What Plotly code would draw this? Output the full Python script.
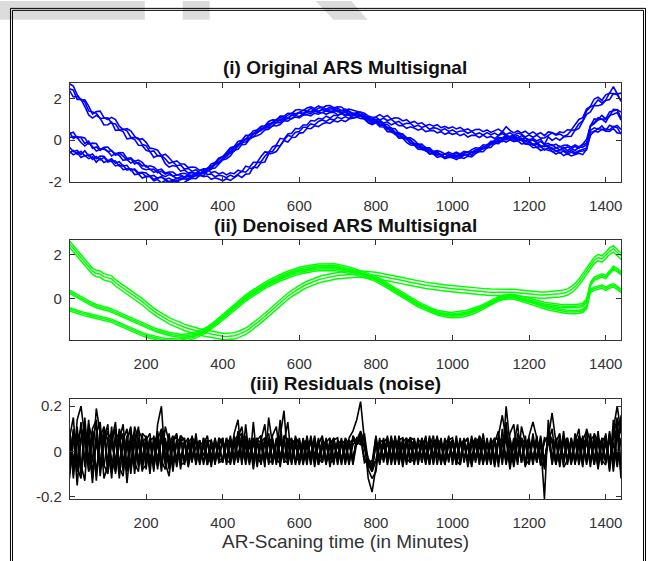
import numpy as np
import plotly.graph_objects as go

# Scan time axis (minutes), one sample every 10 minutes over a day
MINUTES = np.arange(0, 1441, 10)

# Smooth (denoised) profiles of the three signal families
CENTER_A = [
    2.50, 2.30, 2.10, 1.90, 1.70, 1.45, 1.25, 1.15, 1.12, 1.00,
    0.95, 0.90, 0.72, 0.60, 0.48, 0.35, 0.22, 0.10, -0.02, -0.15,
    -0.30, -0.45, -0.58, -0.70, -0.82, -0.92, -1.02, -1.10, -1.18, -1.25,
    -1.32, -1.38, -1.44, -1.49, -1.53, -1.57, -1.61, -1.65, -1.69, -1.72,
    -1.74, -1.75, -1.74, -1.71, -1.66, -1.59, -1.50, -1.39, -1.26, -1.12,
    -0.97, -0.82, -0.66, -0.50, -0.34, -0.19, -0.04, 0.10, 0.23, 0.35,
    0.46, 0.56, 0.65, 0.73, 0.80, 0.86, 0.91, 0.95, 0.99, 1.02,
    1.05, 1.07, 1.09, 1.10, 1.11, 1.12, 1.12, 1.11, 1.10, 1.08,
    1.06, 1.03, 1.00, 0.97, 0.93, 0.90, 0.86, 0.82, 0.78, 0.74,
    0.70, 0.67, 0.64, 0.61, 0.58, 0.55, 0.53, 0.51, 0.49, 0.47,
    0.45, 0.43, 0.41, 0.39, 0.37, 0.35, 0.33, 0.32, 0.31, 0.30,
    0.29, 0.29, 0.30, 0.31, 0.31, 0.30, 0.28, 0.26, 0.24, 0.22,
    0.20, 0.18, 0.17, 0.16, 0.16, 0.17, 0.18, 0.20, 0.22, 0.25,
    0.30, 0.40, 0.55, 0.75, 1.00, 1.30, 1.55, 1.75, 1.88, 1.82,
    1.98, 2.18, 2.28, 2.12, 1.95,
]
CENTER_B = [
    0.30, 0.20, 0.12, 0.02, -0.08, -0.18, -0.28, -0.36, -0.42, -0.46,
    -0.50, -0.56, -0.64, -0.72, -0.80, -0.88, -0.96, -1.04, -1.12, -1.20,
    -1.28, -1.35, -1.42, -1.48, -1.54, -1.59, -1.63, -1.67, -1.70, -1.72,
    -1.72, -1.70, -1.67, -1.62, -1.56, -1.48, -1.38, -1.26, -1.12, -0.97,
    -0.82, -0.66, -0.50, -0.34, -0.19, -0.05, 0.08, 0.21, 0.33, 0.45,
    0.56, 0.66, 0.76, 0.85, 0.94, 1.02, 1.10, 1.17, 1.24, 1.30,
    1.35, 1.39, 1.43, 1.46, 1.48, 1.50, 1.51, 1.52, 1.52, 1.51,
    1.49, 1.46, 1.42, 1.37, 1.31, 1.25, 1.19, 1.13, 1.07, 1.01,
    0.93, 0.84, 0.74, 0.63, 0.52, 0.41, 0.30, 0.19, 0.08, -0.03,
    -0.13, -0.23, -0.32, -0.41, -0.49, -0.56, -0.62, -0.66, -0.69, -0.71,
    -0.71, -0.70, -0.68, -0.65, -0.61, -0.56, -0.50, -0.43, -0.35, -0.26,
    -0.17, -0.08, 0.00, 0.06, 0.10, 0.11, 0.10, 0.07, 0.03, -0.02,
    -0.07, -0.12, -0.17, -0.21, -0.25, -0.28, -0.31, -0.33, -0.35, -0.36,
    -0.37, -0.37, -0.36, -0.34, -0.30, -0.10, 0.65, 0.90, 0.98, 1.05,
    0.98, 1.20, 1.40, 1.30, 1.15,
]
CENTER_C = [
    -0.50, -0.56, -0.62, -0.66, -0.72, -0.76, -0.80, -0.84, -0.88, -0.92,
    -0.96, -1.02, -1.10, -1.18, -1.26, -1.34, -1.42, -1.50, -1.57, -1.64,
    -1.70, -1.75, -1.80, -1.84, -1.87, -1.90, -1.92, -1.93, -1.93, -1.92,
    -1.89, -1.85, -1.80, -1.73, -1.65, -1.56, -1.45, -1.33, -1.20, -1.06,
    -0.92, -0.77, -0.62, -0.47, -0.32, -0.18, -0.05, 0.08, 0.20, 0.32,
    0.43, 0.53, 0.63, 0.72, 0.80, 0.88, 0.95, 1.02, 1.08, 1.14,
    1.19, 1.23, 1.27, 1.30, 1.33, 1.35, 1.36, 1.37, 1.37, 1.36,
    1.34, 1.31, 1.28, 1.24, 1.19, 1.14, 1.09, 1.04, 0.99, 0.93,
    0.85, 0.76, 0.66, 0.55, 0.44, 0.33, 0.22, 0.11, 0.00, -0.10,
    -0.20, -0.30, -0.39, -0.47, -0.55, -0.62, -0.68, -0.73, -0.77, -0.80,
    -0.81, -0.81, -0.79, -0.76, -0.72, -0.66, -0.59, -0.51, -0.42, -0.32,
    -0.22, -0.12, -0.04, 0.02, 0.05, 0.06, 0.04, 0.00, -0.05, -0.11,
    -0.17, -0.23, -0.29, -0.35, -0.40, -0.45, -0.49, -0.53, -0.56, -0.59,
    -0.61, -0.62, -0.62, -0.60, -0.57, -0.40, 0.35, 0.45, 0.50, 0.55,
    0.45, 0.55, 0.60, 0.50, 0.35,
]

# Level of each sensor signal relative to its family profile
OFFSETS_A = [-0.15, 0.00, 0.14]
OFFSETS_B = [-0.07, 0.00, 0.08]
OFFSETS_C = [-0.08, 0.00, 0.07]

# Residual noise of each signal, in units of 0.01
RESID_1 = [
    2, -8, 14, 20, 6, -9, -4, 19, 8, -12,
    -6, 11, -10, 4, 8, -14, 3, 9, -7, 5,
    -3, 6, -9, 12, 20, -5, -11, 4, 7, -8,
    5, -4, 7, -6, 3, -2, 5, -7, 4, 2,
    -5, 6, -3, 8, 14, -4, 3, -6, 13, -5,
    4, -7, 15, 3, -5, 6, 18, -4, 5, -6,
    3, -5, 7, -3, 4, -6, 2, 5, -4, 6,
    -3, 4, -5, 6, 9, 14, 22, 5, -12, -18,
    -6, 4, -3, 6, -5, 7, -2, 4, -6, 5,
    3, -4, 6, -5, 2, 7, -3, 5, -6, 4,
    -2, 5, -4, 6, -7, 3, 5, -4, 8, -3,
    4, -6, 7, 16, 5, -8, 3, 12, -5, 4,
    -3, 6, -5, 4, -21, 14, -4, 6, -7, 5,
    3, -6, 8, -4, 5, 9, -5, 6, -8, 4,
    7, -9, 10, 20, 8,
]
RESID_2 = [
    -4, 9, -15, 6, 12, -5, 10, 14, -8, 5,
    12, -9, 6, -12, 5, 10, -8, 3, 11, -6,
    4, -10, 7, -5, 9, 3, -8, 6, -4, 7,
    -6, 3, -5, 8, -4, 6, -3, 4, -6, 5,
    3, -4, 7, -5, 6, 11, -3, 5, -8, 4,
    -6, 5, 8, -4, 6, -7, 4, 13, -5, 3,
    -4, 6, -3, 5, -7, 4, 6, -5, 3, -6,
    5, -4, 3, -6, 7, 4, 8, -3, -6, -9,
    4, -6, 5, -3, 7, -5, 4, -7, 3, 6,
    -5, 4, -3, 7, -6, 5, 3, -4, 6, -5,
    4, -6, 3, 5, -4, 7, -5, 3, -6, 6,
    -3, 5, -7, 10, -4, 6, -5, 8, 4, -6,
    5, -4, 7, -6, -5, 6, 17, 4, 8, -7,
    -4, 6, -5, 3, -7, 10, 4, -6, 5, -4,
    -6, 8, -7, 12, -10,
]
RESID_3 = [
    6, 15, -7, -12, 9, 4, -14, 8, 13, -6,
    -10, 5, 13, -7, -11, 6, 9, -5, -9, 8,
    6, -7, 3, 8, -6, 11, 4, -9, 5, -3,
    4, -7, 2, 5, -6, 3, 7, -4, 5, -3,
    6, -5, 4, -3, 9, -6, 12, -4, 6, -7,
    5, 12, -6, 4, -3, 14, -5, 6, -4, 7,
    -5, 3, -6, 7, -2, 5, -4, 6, -7, 3,
    -2, 6, -4, 5, -3, 5, 9, 4, -8, -12,
    -9, 5, -4, 7, -6, 3, 5, -4, 6, -5,
    6, -3, 5, -6, 4, -2, 7, -5, 3, -4,
    5, -3, 6, -5, 3, -7, 4, 6, -4, 5,
    -6, 4, 9, -5, 20, 3, -7, 5, -4, 7,
    -5, 8, -4, 6, -8, 9, 5, -6, 4, -3,
    6, -5, 4, 10, -6, 5, -7, 8, 4, -6,
    5, -8, 14, -5, 16,
]
RESID_4 = [
    -10, 4, 8, -6, -13, 12, 5, -9, 6, 11,
    4, -12, 8, 6, -9, 3, -6, 11, 5, -8,
    -6, 4, -5, 9, -4, -8, 6, 3, -7, 4,
    3, 6, -4, 2, 5, -5, 4, -3, 6, -4,
    -3, 5, -6, 4, -2, 7, 5, -5, 4, 6,
    -4, 6, -5, 7, 11, -3, 5, -6, 3, -5,
    6, -4, 5, -3, 7, -5, 3, -6, 4, 5,
    -6, 3, 5, -4, 6, 3, 7, 2, -6, -8,
    5, -3, 6, -5, 4, -6, 7, -3, 5, -4,
    -4, 6, -5, 3, -6, 4, -3, 6, -5, 7,
    -6, 4, -3, 5, -5, 6, -4, 7, 3, -5,
    6, -3, 5, -6, 13, -4, 6, -3, 5, -7,
    4, -6, 5, -3, 4, 7, -5, 6, -4, 9,
    -5, 4, -6, 7, 4, -5, 8, -4, 6, 3,
    -5, 6, -9, 9, -12,
]
RESID_5 = [
    8, -12, 5, 10, -7, 14, -10, 4, -6, 9,
    -5, 7, -8, 10, 4, -6, 8, -10, 6, -3,
    7, -5, 4, -8, 6, -3, 8, -5, 4, 6,
    -4, 5, -3, 6, -5, 4, -6, 3, -4, 6,
    4, -6, 5, 3, -5, 4, -4, 6, -3, 5,
    7, -3, 5, -6, 4, 7, -5, 3, 6, -4,
    -3, 5, -4, 6, -5, 3, 7, -4, 5, -3,
    4, -5, 6, 3, -4, 6, 4, 8, -5, -7,
    6, -5, 3, -4, 6, -3, 5, 6, -5, 3,
    -6, 5, 4, -3, 7, -5, 4, -6, 3, 6,
    -4, 7, -5, 4, 6, -3, 5, -6, 4, -3,
    5, -7, 4, 6, -5, 8, 12, -4, 6, -5,
    7, 13, 6, -5, -6, 4, 10, -5, 6, -4,
    5, -3, 6, -5, 7, -4, 5, -6, 9, -5,
    4, -6, 7, 15, -8,
]
RESID_6 = [
    -6, 10, -9, 5, 11, -8, 6, 12, -11, 4,
    9, -4, -9, 5, 12, -7, 4, -5, 9, 6,
    -8, 5, 6, -4, 8, -6, 3, 7, -5, 4,
    6, -3, 5, -5, 4, 3, -6, 5, -3, 4,
    -5, 3, 6, -4, 5, -3, 7, -5, 4, -4,
    3, -5, 6, 4, -6, 5, -3, 4, -5, 6,
    4, -6, 3, 5, -4, 6, -5, 4, 6, -4,
    3, 5, -6, 4, 5, 3, 6, -5, -4, -9,
    -4, 6, -5, 4, -3, 6, -5, 3, -4, 6,
    5, -4, 6, -3, 5, -6, 4, 3, -5, 6,
    -3, 5, -6, 4, -5, 3, 6, -4, 5, -6,
    4, -5, 6, -4, 7, -3, 5, -6, 11, 4,
    -6, 5, -4, 7, -4, 5, -3, 6, -5, 4,
    6, -4, 5, -6, 3, 6, -5, 4, -7, 6,
    -4, 7, -6, 8, 11,
]
RESID_7 = [
    5, -6, 11, -9, 7, -4, 9, -13, 10, -7,
    6, 8, -5, 9, -7, 5, 11, -6, 4, -9,
    5, 8, -6, 4, -9, 6, -4, 5, 8, -6,
    -5, 4, 6, -3, 5, -6, 4, 5, -5, 3,
    6, -4, -5, 7, -3, 5, -6, 4, 5, -3,
    -5, 4, -3, 6, -4, -5, 6, -3, 4, 5,
    -4, 5, 3, -6, 4, -3, 5, -5, 3, 6,
    -5, 4, -3, 5, -6, 4, 3, 6, -7, -5,
    7, -4, 5, -6, 3, 5, -4, 6, -3, -5,
    4, -5, 3, 6, -4, 5, -6, 4, -3, 5,
    6, -4, 5, -3, 4, -6, 3, 5, -5, 4,
    -5, 6, -4, 5, -6, 4, -3, 6, -5, 3,
    6, -5, 4, -6, 6, 5, 4, -5, 7, -6,
    4, -5, 3, 6, -4, 5, -5, 7, -3, 5,
    6, -5, 4, -7, 6,
]
RESID_8 = [
    -12, 7, -5, 13, -4, 8, -12, 6, -7, 10,
    -8, 4, 10, -6, 6, -9, 5, 8, -4, 7,
    -5, 6, -8, 5, 10, 4, -6, 3, -5, 7,
    5, -6, 3, 5, -4, 6, -3, -5, 4, -4,
    5, -3, 4, -6, 6, 8, -4, 3, -5, 5,
    4, 6, -4, -5, 5, -4, 7, 5, -6, 4,
    -6, 3, 5, -4, 6, -3, -5, 4, -3, 5,
    6, -4, 5, -5, 3, 5, 4, 3, -3, -7,
    3, -5, 4, 6, -4, 5, -6, 4, 6, -3,
    5, -6, 4, -5, 6, -3, 5, 4, -6, 3,
    5, -4, -6, 4, 5, -5, 6, -3, 4, -4,
    3, 6, -5, 4, -3, 6, -5, 4, 5, -6,
    -4, 6, -5, 5, -7, 8, -6, 4, -5, 7,
    -6, 5, -4, 6, 5, -6, 4, -5, 6, -4,
    8, -5, 6, 10, -6,
]
RESID_9 = [
    9, -5, 6, -10, 15, -6, 7, -11, 5, 8,
    -9, 6, -6, 8, -5, 7, -10, 6, -6, 4,
    6, -4, 5, -6, 7, -5, 4, -6, 5, -4,
    4, -5, 6, 4, -5, 3, 5, -4, 6, -5,
    -4, 6, -3, 5, 7, -5, 4, -3, 6, -4,
    6, -5, 4, 5, -3, 6, -4, -5, 5, 3,
    5, -4, 6, -3, 5, -6, 4, 3, -5, -4,
    4, -6, 3, 5, -5, 6, 5, 2, -5, -4,
    -5, 4, 5, -3, 6, -4, 3, -5, 4, 6,
    -3, 5, -5, 6, -4, 3, 6, -5, 4, -3,
    5, -6, 4, 3, -4, 5, -3, 6, -5, 4,
    -4, 5, 6, -3, 9, -6, 4, -5, 6, 3,
    5, -4, 6, -3, 5, 6, 5, -6, 3, 5,
    -4, 6, -5, 3, 6, -4, 5, 7, -5, 6,
    -5, 9, -4, 14, 9,
]

SIGNALS = [
    (CENTER_A, OFFSETS_A[0], RESID_1),
    (CENTER_A, OFFSETS_A[1], RESID_2),
    (CENTER_A, OFFSETS_A[2], RESID_3),
    (CENTER_B, OFFSETS_B[0], RESID_4),
    (CENTER_B, OFFSETS_B[1], RESID_5),
    (CENTER_B, OFFSETS_B[2], RESID_6),
    (CENTER_C, OFFSETS_C[0], RESID_7),
    (CENTER_C, OFFSETS_C[1], RESID_8),
    (CENTER_C, OFFSETS_C[2], RESID_9),
]

TITLES = ["(i) Original ARS Multisignal", "(ii) Denoised ARS Multisignal",
          "(iii) Residuals (noise)"]
X_LABEL = "AR-Scaning time (in Minutes)"
X_TICKS = [200, 400, 600, 800, 1000, 1200, 1400]

W, H = 650, 561
FONT = "Liberation Sans, Arial, Helvetica, sans-serif"
AX_COLOR = "#333333"


def px_x(p):
    return p / W


def px_y(p):
    return 1 - p / H


fig = go.Figure()

for center, off, resid in SIGNALS:
    n = min(len(center), len(resid), len(MINUTES))
    t = MINUTES[:n]
    den = np.asarray(center[:n]) + off
    res = np.asarray(resid[:n]) / 100.0
    orig = den + res
    fig.add_trace(go.Scatter(x=t, y=orig, mode="lines", xaxis="x", yaxis="y",
                             line=dict(color="#0000ff", width=1.6),
                             hoverinfo="skip", showlegend=False))
    fig.add_trace(go.Scatter(x=t, y=den, mode="lines", xaxis="x2", yaxis="y2",
                             line=dict(color="#00ff00", width=1.5),
                             hoverinfo="skip", showlegend=False))
    fig.add_trace(go.Scatter(x=t, y=res, mode="lines", xaxis="x3", yaxis="y3",
                             line=dict(color="#000000", width=1.6),
                             hoverinfo="skip", showlegend=False))

# panel pixel boxes: (top, bottom)
PANELS = [(83, 184), (243, 345), (404, 506)]
Y_RANGES = [[-2.0, 2.75], [-1.93, 2.68], [-0.21, 0.234]]
Y_TICKS = [[-2, 0, 2], [-2, 0, 2], [-0.2, 0, 0.2]]
Y_TEXT = [["-2", "0", "2"], ["-2", "0", "2"], ["-0.2", "0", "0.2"]]
TITLE_Y = [68, 228, 389]

x_dom = [px_x(70), px_x(622)]
tick_font = dict(family=FONT, size=15, color=AX_COLOR)
layout = dict(
    width=W, height=H,
    margin=dict(l=0, r=0, t=0, b=0),
    paper_bgcolor="white", plot_bgcolor="white",
    showlegend=False,
)
annotations = []
for i, (top, bot) in enumerate(PANELS):
    sfx = "" if i == 0 else str(i + 1)
    layout["xaxis" + sfx] = dict(
        domain=x_dom, range=[1, 1440], anchor="y" + sfx,
        tickvals=X_TICKS, ticks="inside", ticklen=5, tickcolor=AX_COLOR,
        showline=True, linecolor=AX_COLOR, linewidth=1, mirror="ticks",
        showgrid=False, zeroline=False, tickfont=tick_font,
        ticklabelstandoff=10,
    )
    layout["yaxis" + sfx] = dict(
        domain=[px_y(bot), px_y(top)], range=Y_RANGES[i], anchor="x" + sfx,
        tickvals=Y_TICKS[i], ticktext=Y_TEXT[i], ticks="inside", ticklen=5,
        tickcolor=AX_COLOR, showline=True, linecolor=AX_COLOR, linewidth=1,
        mirror="ticks", showgrid=False, zeroline=False, tickfont=tick_font,
        ticklabelstandoff=4,
    )
    annotations.append(dict(
        text="<b>%s</b>" % TITLES[i], x=(x_dom[0] + x_dom[1]) / 2,
        y=px_y(TITLE_Y[i]), xref="paper", yref="paper", showarrow=False,
        xanchor="center", yanchor="middle",
        font=dict(family=FONT, size=19, color="#111111"),
    ))

annotations.append(dict(
    text=X_LABEL, x=(x_dom[0] + x_dom[1]) / 2, y=px_y(549),
    xref="paper", yref="paper", showarrow=False,
    xanchor="center", yanchor="middle",
    font=dict(family=FONT, size=19, color=AX_COLOR),
))
layout["annotations"] = annotations

WATERMARK = "#dcdcdc"
shapes = [
    dict(type="rect", xref="paper", yref="paper", layer="below",
         x0=px_x(0), x1=px_x(145), y0=px_y(19), y1=px_y(0),
         line=dict(width=0), fillcolor=WATERMARK),
    dict(type="rect", xref="paper", yref="paper", layer="below",
         x0=px_x(183), x1=px_x(210), y0=px_y(19), y1=px_y(0),
         line=dict(width=0), fillcolor=WATERMARK),
    dict(type="path", xref="paper", yref="paper", layer="below",
         path="M %f %f L %f %f L %f %f L %f %f Z" % (
             px_x(316), px_y(0), px_x(352), px_y(0),
             px_x(368), px_y(19), px_x(334), px_y(19)),
         line=dict(width=0), fillcolor=WATERMARK),
    # figure frame (double rule)
    dict(type="rect", xref="paper", yref="paper", layer="above",
         x0=px_x(10.5), x1=px_x(646.5), y0=px_y(575), y1=px_y(7.5),
         line=dict(color="#000000", width=1), fillcolor="rgba(0,0,0,0)"),
    dict(type="rect", xref="paper", yref="paper", layer="above",
         x0=px_x(12.5), x1=px_x(644.5), y0=px_y(575), y1=px_y(9.5),
         line=dict(color="#000000", width=1), fillcolor="rgba(0,0,0,0)"),
]
layout["shapes"] = shapes

fig.update_layout(**layout)
fig.write_html("out.html")
